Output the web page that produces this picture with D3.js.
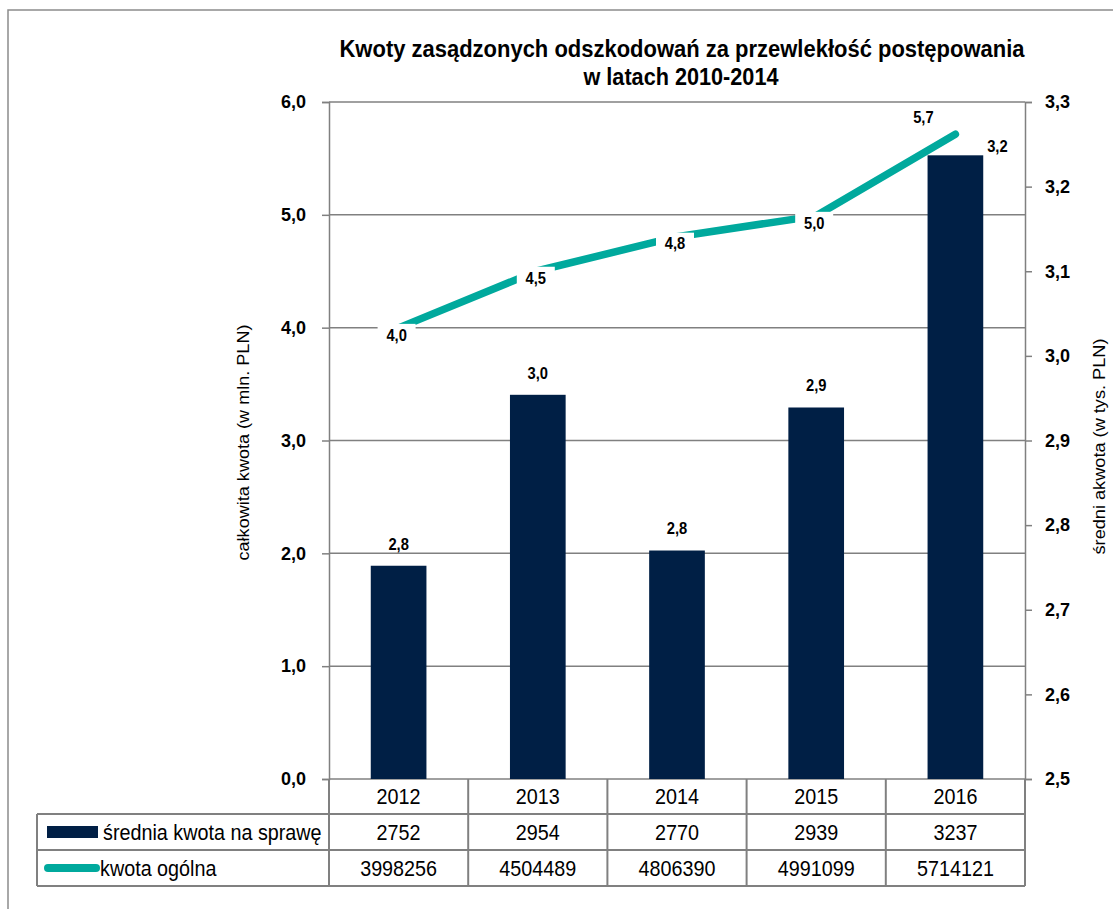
<!DOCTYPE html>
<html lang="pl">
<head>
<meta charset="utf-8">
<title>Kwoty zasądzonych odszkodowań</title>
<script src="https://cdnjs.cloudflare.com/ajax/libs/d3/7.8.5/d3.min.js"></script>
<style>
  body { margin: 0; background: #fff; }
  svg text { fill: #000; font-family: "Liberation Sans", Arial, sans-serif; }
</style>
</head>
<body>
<div id="chart"></div>
<script>
// data
const years = ['2012', '2013', '2014', '2015', '2016'];
const avgAmount = [2752, 2954, 2770, 2939, 3237];                  // srednia kwota na sprawe (PLN)
const totalAmount = [3998256, 4504489, 4806390, 4991099, 5714121]; // kwota ogolna (PLN)
const leftTicks = [0, 1, 2, 3, 4, 5, 6];
const rightTicks = [2.5, 2.6, 2.7, 2.8, 2.9, 3.0, 3.1, 3.2, 3.3];
const seriesNames = ['średnia kwota na sprawę', 'kwota ogólna'];
const titleLines = ['Kwoty zasądzonych odszkodowań za przewlekłość postępowania', 'w latach 2010-2014'];

const W = 1113, H = 909;
const navy = '#001f45';
const teal = '#00a99d';
const grid = '#808080';
const squeeze = 0.92; // text in the picture is a bit narrower than Arial

const pLeft = 329, pRight = 1025, pTop = 102, pBottom = 779;

const svg = d3.select('#chart').append('svg')
  .attr('width', W).attr('height', H);

// text helper: squeezed horizontally
function sText(parent, x, y, t, size, opts = {}) {
  const g = parent.append('g')
    .attr('transform', `translate(${x},${y})` + (opts.rotate ? ` rotate(${opts.rotate})` : '') + ` scale(${squeeze},1)`);
  const el = g.append('text')
    .attr('text-anchor', opts.anchor || 'start')
    .attr('dy', '0.36em')
    .style('font-size', size + 'px')
    .style('font-weight', opts.bold ? 'bold' : 'normal')
    .text(t);
  return el;
}

// outer frame
svg.append('rect')
  .attr('x', 8).attr('y', 10).attr('width', W).attr('height', H)
  .attr('fill', 'none').attr('stroke', '#8c8c8c').attr('stroke-width', 1.5);

// title
svg.append('text').attr('x', 682).attr('y', 57).attr('text-anchor', 'middle')
  .attr('textLength', 685).attr('lengthAdjust', 'spacingAndGlyphs')
  .style('font-weight', 'bold').style('font-size', '23px').text(titleLines[0]);
svg.append('text').attr('x', 681).attr('y', 85).attr('text-anchor', 'middle')
  .attr('textLength', 195).attr('lengthAdjust', 'spacingAndGlyphs')
  .style('font-weight', 'bold').style('font-size', '23px').text(titleLines[1]);

const x = d3.scaleBand().domain(years).range([pLeft, pRight]).padding(0);
const yL = d3.scaleLinear().domain([0, 6]).range([pBottom, pTop]);
const yR = d3.scaleLinear().domain([2.5, 3.3]).range([pBottom, pTop]);
const fmt = d => d3.format('.1f')(d).replace('.', ',');

// gridlines
svg.append('g').selectAll('line').data(leftTicks).enter().append('line')
  .attr('x1', pLeft).attr('x2', pRight)
  .attr('y1', d => yL(d)).attr('y2', d => yL(d))
  .attr('stroke', grid).attr('stroke-width', 1.5);

// left axis
const axL = svg.append('g')
  .attr('transform', `translate(${pLeft},0)`)
  .call(d3.axisLeft(yL).tickValues(leftTicks).tickSize(7).tickPadding(16).tickFormat(fmt));
axL.select('.domain').attr('stroke', grid).attr('stroke-width', 1.5);
axL.selectAll('.tick line').attr('stroke', grid).attr('stroke-width', 1.5);
axL.selectAll('.tick text')
  .style('font-family', '"Liberation Sans", Arial, sans-serif')
  .style('font-weight', 'bold').style('font-size', '18px');

// right axis
const axR = svg.append('g')
  .attr('transform', `translate(${pRight},0)`)
  .call(d3.axisRight(yR).tickValues(rightTicks).tickSize(7).tickPadding(13).tickFormat(fmt));
axR.select('.domain').attr('stroke', grid).attr('stroke-width', 1.5);
axR.selectAll('.tick line').attr('stroke', grid).attr('stroke-width', 1.5);
axR.selectAll('.tick text')
  .style('font-family', '"Liberation Sans", Arial, sans-serif')
  .style('font-weight', 'bold').style('font-size', '18px');

// axis titles
svg.append('text')
  .attr('transform', `translate(243,${(pTop + pBottom) / 2 + 2}) rotate(-90)`)
  .attr('text-anchor', 'middle').attr('dy', '0.36em')
  .attr('textLength', 236).attr('lengthAdjust', 'spacingAndGlyphs')
  .style('font-size', '17px')
  .text('całkowita kwota (w mln. PLN)');
svg.append('text')
  .attr('transform', `translate(1099,${(pTop + pBottom) / 2 + 6}) rotate(-90)`)
  .attr('text-anchor', 'middle').attr('dy', '0.36em')
  .attr('textLength', 216).attr('lengthAdjust', 'spacingAndGlyphs')
  .style('font-size', '17px')
  .text('średni akwota (w tys. PLN)');

// bars (right axis, thousands)
const barW = x.bandwidth() * 0.4;
const avgK = avgAmount.map(v => v / 1000);
svg.append('g').selectAll('rect').data(avgK).enter().append('rect')
  .attr('x', (d, i) => x(years[i]) + (x.bandwidth() - barW) / 2)
  .attr('y', d => yR(d))
  .attr('width', barW)
  .attr('height', d => pBottom - yR(d))
  .attr('fill', navy);

// bar labels
const lastI = years.length - 1;
avgK.forEach((d, i) => {
  const cx = x(years[i]) + x.bandwidth() / 2 + (i === lastI ? 42 : 0);
  const cy = yR(d) - (i === lastI ? 9 : 22);
  sText(svg, cx, cy, fmt(d), 16, { bold: true, anchor: 'middle' });
});

// line (left axis, millions)
const totM = totalAmount.map(v => v / 1e6);
const line = d3.line()
  .x((d, i) => x(years[i]) + x.bandwidth() / 2)
  .y(d => yL(d));
svg.append('path').datum(totM)
  .attr('d', line)
  .attr('fill', 'none').attr('stroke', teal).attr('stroke-width', 7.5)
  .attr('stroke-linecap', 'round').attr('stroke-linejoin', 'round');

// line labels with white boxes
totM.forEach((d, i) => {
  const last = i === lastI;
  const cx = x(years[i]) + x.bandwidth() / 2 + (last ? -32 : -2);
  const cy = yL(d) + (last ? -17 : 7);
  svg.append('rect')
    .attr('x', cx - 19).attr('y', cy - 11).attr('width', 38).attr('height', 22)
    .attr('fill', '#fff');
  sText(svg, cx, cy, fmt(d), 16, { bold: true, anchor: 'middle' });
});

// data table
const tLeft = 37;
const rows = [pBottom, 814, 850, 886];
const tbl = svg.append('g');

years.forEach((yr, i) => {
  const cx = x(yr) + x.bandwidth() / 2;
  sText(tbl, cx, (rows[0] + rows[1]) / 2, yr, 21.5, { anchor: 'middle' });
  sText(tbl, cx, (rows[1] + rows[2]) / 2, avgAmount[i], 21.5, { anchor: 'middle' });
  sText(tbl, cx, (rows[2] + rows[3]) / 2, totalAmount[i], 21.5, { anchor: 'middle' });
});

const tLines = tbl.append('g');
// horizontal table lines
[rows[1], rows[2], rows[3]].forEach(yy => {
  tLines.append('line').attr('x1', tLeft).attr('x2', pRight).attr('y1', yy).attr('y2', yy);
});
// vertical table lines
tLines.append('line').attr('x1', tLeft).attr('x2', tLeft).attr('y1', rows[1]).attr('y2', rows[3]);
years.concat(['end']).forEach((yr, i) => {
  const xx = pLeft + i * x.bandwidth();
  tLines.append('line').attr('x1', xx).attr('x2', xx).attr('y1', rows[0]).attr('y2', rows[3]);
});
tLines.selectAll('line').attr('stroke', grid).attr('stroke-width', 2);

// legend keys inside table
tbl.append('rect')
  .attr('x', 47).attr('y', (rows[1] + rows[2]) / 2 - 6).attr('width', 51).attr('height', 12)
  .attr('fill', navy);
sText(tbl, 103, (rows[1] + rows[2]) / 2, seriesNames[0], 21.5);
tbl.append('line')
  .attr('x1', 48).attr('x2', 96)
  .attr('y1', (rows[2] + rows[3]) / 2).attr('y2', (rows[2] + rows[3]) / 2)
  .attr('stroke', teal).attr('stroke-width', 8).attr('stroke-linecap', 'round');
sText(tbl, 100, (rows[2] + rows[3]) / 2, seriesNames[1], 21.5);
</script>
</body>
</html>
